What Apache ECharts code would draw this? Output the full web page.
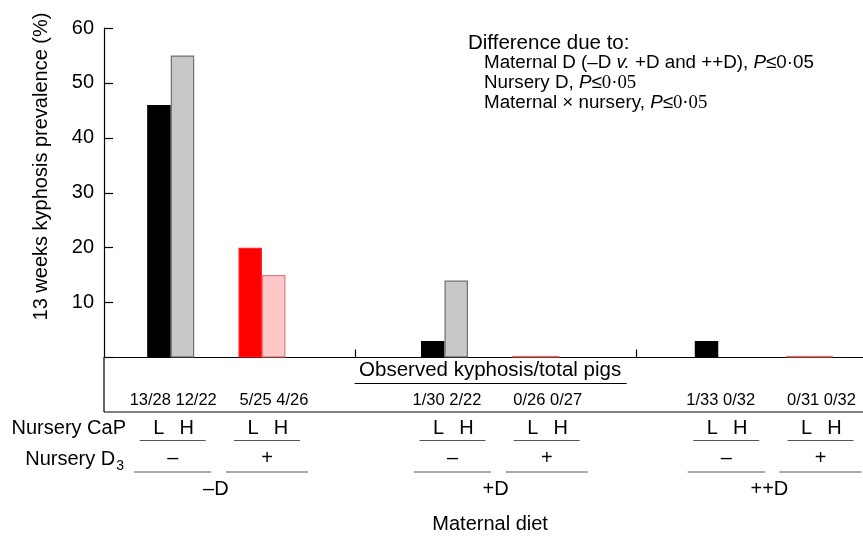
<!DOCTYPE html>
<html><head><meta charset="utf-8">
<script src="https://cdn.jsdelivr.net/npm/echarts@6/dist/echarts.min.js"></script>
<style>html,body{margin:0;padding:0;background:#fff}#c{width:863px;height:536px}</style>
</head><body><div id="c"></div>
<script>
// ---- data ----
const maternalDiets = ['–D', '+D', '++D'];
const nurseryD3 = ['–', '+'];
const nurseryCaP = ['L', 'H'];
// subgroups in order: (–D,–), (–D,+), (+D,–), (+D,+), (++D,–), (++D,+)
const subgroupDiet = [0, 0, 1, 1, 2, 2];
const subgroupD3 = [0, 1, 0, 1, 0, 1];
const subgroupSlot = [0, 1, 3, 4, 6, 7];
const prevalenceL = [46, 20, 3, 0, 3, 0];
const prevalenceH = [55, 15, 14, 0, 0, 0];
const countsL = ['13/28', '5/25', '1/30', '0/26', '1/33', '0/31'];
const countsH = ['12/22', '4/26', '2/22', '0/27', '0/32', '0/32'];
const dietDividers = [2.02, 5.1];

// ---- styles ----
const FONT = '"Liberation Sans", Arial, Helvetica, sans-serif';
const SERIF = '"Liberation Serif", "Times New Roman", serif';
const fillL = ['#000000', '#ff0000'];
const borderL = ['#000000', '#ff2020'];
const fillH = ['#c8c8c8', '#ffc8c8'];
const borderH = ['#707070', '#e47c7c'];
const zeroColor = ['rgba(0,0,0,0)', '#f06c6c'];

const chart = echarts.init(document.getElementById('c'), null, {renderer: 'canvas'});

function makeSeries(name, vals, fills, borders) {
  return {
    name, type: 'bar', barWidth: 23.5, barGap: '0%', barMinHeight: 1.6,
    data: vals.map((v, i) => {
      const d3 = subgroupD3[i];
      return {
        value: [subgroupSlot[i], v],
        itemStyle: v === 0
          ? {color: zeroColor[d3], borderWidth: 0}
          : {color: fills[d3], borderColor: borders[d3], borderWidth: 1.2}
      };
    })
  };
}

chart.setOption({
  animation: false,
  grid: {left: 104, right: 0, top: 28, height: 329.5},
  xAxis: {
    type: 'value', min: -0.731, max: 7.586,
    axisLine: {show: true, onZero: false, lineStyle: {color: '#000', width: 1.2}},
    axisTick: {show: true, inside: true, length: 8, customValues: dietDividers, lineStyle: {color: '#000', width: 1.2}},
    axisLabel: {show: false}, splitLine: {show: false}
  },
  yAxis: {
    type: 'value', min: 0, max: 60, interval: 10,
    axisLine: {show: true, onZero: false, lineStyle: {color: '#000', width: 1.2}},
    axisTick: {show: true, inside: true, length: 9, lineStyle: {color: '#000', width: 1.2}},
    axisLabel: {fontSize: 20, color: '#000', fontFamily: FONT, margin: 10, formatter: v => v === 0 ? '' : String(v)},
    splitLine: {show: false}
  },
  series: [
    makeSeries('L', prevalenceL, fillL, borderL),
    makeSeries('H', prevalenceH, fillH, borderH)
  ]
});

// ---- annotations positioned from the x scale ----
const px = v => chart.convertToPixel({xAxisIndex: 0}, v);
const g = [];
function line(x1, y1, x2, y2, c = '#000', w = 1.2) {
  g.push({type: 'line', silent: true, shape: {x1, y1, x2, y2}, style: {stroke: c, lineWidth: w}});
}
function text(x, y, t, size, opt = {}) {
  g.push(Object.assign({type: 'text', x, y, silent: true, style: Object.assign({
    text: t, fill: '#000', fontSize: size, fontFamily: FONT,
    align: 'center', textAlign: 'center', verticalAlign: 'middle', textVerticalAlign: 'middle'
  }, opt.style || {})}, opt.el || {}));
}

// y axis name
text(41, 166.5, '13 weeks kyphosis prevalence (%)', 20, {el: {rotation: Math.PI / 2}});

// box below the axis
line(104, 357.5, 104, 412);
line(104, 412, 863, 412);

// observed caption
const mid = px(3.5);
text(mid, 370, 'Observed kyphosis/total pigs', 20.5);
line(mid - 135.5, 383.5, mid + 136.5, 383.5);

const tableCenters = [];
for (let i = 0; i < subgroupSlot.length; i++) {
  const c = px(subgroupSlot[i]);
  const d3 = subgroupD3[i], diet = subgroupDiet[i];
  text(c + (d3 ? 12 : 2.5), 400.5, countsL[i] + ' ' + countsH[i], 16.5);
  const tc = c + 2 + (diet > 0 ? 6 : 0) + 3 * d3;
  tableCenters.push(tc);
  text(tc - 14, 428, nurseryCaP[0], 20);
  text(tc + 14, 428, nurseryCaP[1], 20);
  line(tc - 33, 440.5, tc + 33, 440.5, '#555', 1);
  text(tc, 458, nurseryD3[d3], 20);
  const hw = d3 ? 41 : 38.5;
  line(tc - hw, 472, tc + hw, 472, '#555', 1);
}
maternalDiets.forEach((d, k) => {
  const idx = subgroupDiet.map((v, i) => v === k ? i : -1).filter(i => i >= 0);
  const m = (tableCenters[idx[0]] + tableCenters[idx[idx.length - 1]]) / 2 - 4;
  text(m, 489.5, d, 20);
});
text(mid, 524, 'Maternal diet', 20);

// row headers
text(126, 428, 'Nursery CaP', 20, {style: {align: 'right', textAlign: 'right'}});
text(124, 457, '{a|Nursery D}{s|3}', 20, {style: {align: 'right', textAlign: 'right', rich: {
  a: {fontSize: 20, fontFamily: FONT, fill: '#000', verticalAlign: 'bottom', lineHeight: 24},
  s: {fontSize: 14, fontFamily: FONT, fill: '#000', verticalAlign: 'bottom', lineHeight: 24, padding: [0, 0, -4, 1]}
}}});

// statistics note
const richNote = {
  n: {fontSize: 18.8, fontFamily: FONT, fill: '#000'},
  i: {fontSize: 18.8, fontFamily: FONT, fill: '#000', fontStyle: 'italic'},
  r: {fontSize: 18.8, fontFamily: SERIF, fill: '#000'}
};
const leftAlign = {align: 'left', textAlign: 'left'};
text(468, 43, 'Difference due to:', 20.5, {style: leftAlign});
text(484, 63, '{n|Maternal D (–D }{i|v.}{n| +D and ++D), }{i|P}{n|≤0·05}', 18.8, {style: Object.assign({rich: richNote}, leftAlign)});
text(484, 83, '{n|Nursery D, }{i|P}{n|≤}{r|0·05}', 18.8, {style: Object.assign({rich: richNote}, leftAlign)});
text(484, 103, '{n|Maternal × nursery, }{i|P}{n|≤}{r|0·05}', 18.8, {style: Object.assign({rich: richNote}, leftAlign)});

chart.setOption({graphic: g});
</script>
</body></html>
